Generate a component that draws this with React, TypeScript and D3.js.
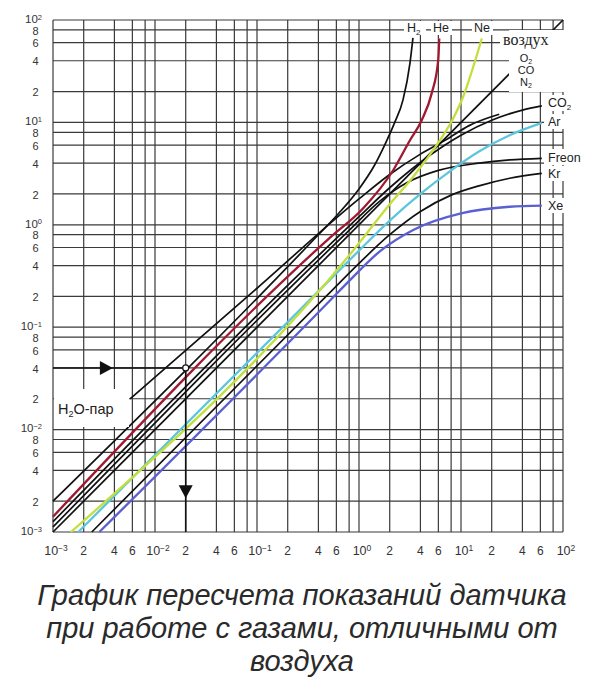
import React from 'react';
import * as d3 from 'd3';

// pressure range (both axes, log scale)
const domain: [number, number] = [1e-3, 1e2];
const decades = [-3, -2, -1, 0, 1, 2];
const gridMult = [1, 2, 4, 6, 8];
const yTickMult = [2, 4, 6, 8];
const xTickMult = [2, 4, 6];

const air = [[1e-3, 1e-3], [1e2, 1e2]];
const h2 = [[1e-3, 2e-3], [0.4, 0.8], [0.63, 1.29], [1, 2.24], [1.41, 3.77], [1.78, 5.97], [2.24, 10], [2.7, 16.6], [3.16, 38], [3.38, 67]];
const h2o = [[5.7e-3, 2e-2], [0.1, 0.24], [1, 1.79], [2, 3.1], [4, 4.9], [7.2, 6.8], [12, 9.3], [23.7, 12]];
const co2 = [[1e-3, 1.26e-3], [0.3, 0.38], [1, 1.2], [2, 2.3], [5, 4.8], [10, 7.5], [20, 10.5], [40, 13.2], [62, 14.5]];
const freon = [[1e-3, 1.12e-3], [0.8, 0.88], [1.6, 1.7], [3, 2.6], [6, 3.4], [15, 4.0], [30, 4.3], [62, 4.46]];
const kr = [[2.4e-3, 1e-3], [0.5, 0.21], [1, 0.42], [2, 0.8], [4, 1.35], [8, 1.95], [15, 2.4], [30, 2.85], [62, 3.18]];
const he = [[1e-3, 1.41e-3], [0.52, 0.75], [1.1, 1.45], [2.17, 3.43], [3.16, 6.7], [4.12, 10.5], [5.16, 19.2], [5.98, 40.6], [6.12, 66]];
const ne = [[1.5e-3, 1e-3], [1, 0.66], [2.01, 1.6], [3.4, 2.95], [6.22, 6.7], [8.4, 11], [10.5, 17.8], [13.2, 35], [16, 66]];
const ar = [[1.77e-3, 1e-3], [0.5, 0.28], [1, 0.56], [2, 1.1], [4, 2.0], [8, 3.4], [15, 5.2], [30, 7.5], [62, 9.9]];
const xe = [[2.85e-3, 1e-3], [0.5, 0.175], [0.82, 0.29], [1.6, 0.55], [3.4, 0.89], [10, 1.29], [30, 1.5], [62, 1.54]];

const blackCurves = [air, h2, h2o, co2, freon, kr];
const colorCurves = [
  { pts: ar, color: '#5cc6de' },
  { pts: ne, color: '#c3df3c' },
  { pts: he, color: '#a0192e' },
  { pts: xe, color: '#5a5fd2' },
];

// example: indicated 4e-2 -> real 2e-2
const exampleIndicated = 4e-2;
const exampleReal = 2e-2;

const caption = ['График пересчета показаний датчика', 'при работе с газами, отличными от', 'воздуха'];

const sup = (n: number) => (n < 0 ? '\u2212' + Math.abs(n) : String(n));

export default function App() {
  const x = d3.scaleLog().domain(domain).range([53, 563]);
  const y = d3.scaleLog().domain(domain).range([532, 20]);

  const gridVals = decades.flatMap(d => (d === 2 ? [100] : gridMult.map(m => m * Math.pow(10, d))));

  const line = d3.line<number[]>()
    .x(d => x(d[0]))
    .y(d => y(d[1]))
    .curve(d3.curveMonotoneX);

  const ax = x(exampleReal);
  const ay = y(exampleIndicated);
  const rightArrowX = x(3.3e-3);
  const downArrowY = y(2.5e-3);

  const font = '"Liberation Sans", Arial, sans-serif';
  const gridColor = '#3a3a3a';

  return (
    <svg width={589} height={684} style={{ position: 'absolute', left: 0, top: 0, background: '#fff' }}>
      <rect width={589} height={684} fill="#fff" />
      {/* grid */}
      <g stroke={gridColor} strokeWidth={1.2}>
        {gridVals.map(v => (
          <line key={'v' + v} x1={x(v)} x2={x(v)} y1={y(1e2)} y2={y(1e-3)} />
        ))}
        {gridVals.map(v => (
          <line key={'h' + v} x1={x(1e-3)} x2={x(1e2)} y1={y(v)} y2={y(v)} />
        ))}
      </g>

      {/* curves */}
      <g fill="none" stroke="#111" strokeWidth={1.7}>
        {blackCurves.map((c, i) => (
          <path key={i} d={line(c) || ''} />
        ))}
      </g>
      <g fill="none" strokeWidth={2.3}>
        {colorCurves.map((c, i) => (
          <path key={i} d={line(c.pts) || ''} stroke={c.color} />
        ))}
      </g>

      {/* example arrows */}
      <g stroke="#111" strokeWidth={1.6}>
        <line x1={x(1e-3)} x2={ax} y1={ay} y2={ay} />
        <line x1={ax} x2={ax} y1={ay} y2={y(1e-3)} />
      </g>
      <path d={`M${rightArrowX - 6},${ay - 7}L${rightArrowX + 7},${ay}L${rightArrowX - 6},${ay + 7}Z`} fill="#111" />
      <path d={`M${ax - 7},${downArrowY - 6}L${ax + 7},${downArrowY - 6}L${ax},${downArrowY + 7}Z`} fill="#111" />
      <circle cx={ax} cy={ay} r={3} fill="#fff" stroke="#111" strokeWidth={1.2} />

      {/* label backgrounds */}
      <g fill="#fff">
        <rect x={54} y={389} width={75} height={38} />
        <rect x={404} y={21} width={22} height={14} />
        <rect x={431} y={21} width={21} height={14} />
        <rect x={472} y={21} width={21} height={14} />
        <rect x={509} y={30} width={56} height={62} />
        <rect x={500} y={33} width={58} height={17} />
        <rect x={544} y={95} width={45} height={16} />
        <rect x={544} y={114} width={45} height={15} />
        <rect x={544} y={149} width={45} height={16} />
        <rect x={544} y={166} width={45} height={15} />
        <rect x={544} y={198} width={45} height={15} />
      </g>

      {/* gas labels */}
      <g fontFamily={font} fontSize={12.5} fill="#222">
        <text x={407} y={32}>H<tspan fontSize={8} dy={3}>2</tspan></text>
        <text x={433} y={32}>He</text>
        <text x={474} y={32}>Ne</text>
        <text x={526} y={62} textAnchor="middle" fontSize={11}>O<tspan fontSize={7} dy={2}>2</tspan></text>
        <text x={526} y={74} textAnchor="middle" fontSize={11}>CO</text>
        <text x={526} y={86} textAnchor="middle" fontSize={11}>N<tspan fontSize={7} dy={2}>2</tspan></text>
        <text x={548} y={107}>CO<tspan fontSize={8} dy={3}>2</tspan></text>
        <text x={548} y={126}>Ar</text>
        <text x={548} y={162}>Freon</text>
        <text x={548} y={178}>Kr</text>
        <text x={548} y={210}>Xe</text>
        <text x={58} y={414} fontSize={14.5}>H<tspan fontSize={9} dy={3}>2</tspan><tspan dy={-3}>O-пар</tspan></text>
      </g>
      <text x={503} y={45} fontFamily='"Liberation Serif", "Times New Roman", serif' fontSize={16} fill="#222">воздух</text>

      {/* y tick labels */}
      <g fontFamily={font} fill="#333">
        {decades.map(d => (
          <text key={'yd' + d} x={42} y={y(Math.pow(10, d))} dy="0.25em" textAnchor="end" fontSize={11.5}>
            10<tspan fontSize={7.5} dy="-0.45em">{sup(d)}</tspan>
          </text>
        ))}
        {decades.slice(0, -1).flatMap(d =>
          yTickMult.map(m => (
            <text key={'ym' + d + m} x={38.5} y={y(m * Math.pow(10, d))} dy="0.42em" textAnchor="end" fontSize={11}>
              {m}
            </text>
          ))
        )}
      </g>

      {/* x tick labels */}
      <g fontFamily={font} fill="#333">
        {decades.map(d => (
          <text key={'xd' + d} x={x(Math.pow(10, d)) + 3} y={555} textAnchor="middle" fontSize={12.5}>
            10<tspan fontSize={8.5} dy="-0.45em">{sup(d)}</tspan>
          </text>
        ))}
        {decades.slice(0, -1).flatMap(d =>
          xTickMult.map(m => (
            <text key={'xm' + d + m} x={x(m * Math.pow(10, d))} y={555} textAnchor="middle" fontSize={12}>
              {m}
            </text>
          ))
        )}
      </g>

      {/* caption */}
      <g fontFamily={font} fontStyle="italic" fontSize={29} fill="#2a2a2a" textAnchor="middle">
        {caption.map((t, i) => (
          <text key={i} x={302} y={605 + i * 33}>{t}</text>
        ))}
      </g>
    </svg>
  );
}
